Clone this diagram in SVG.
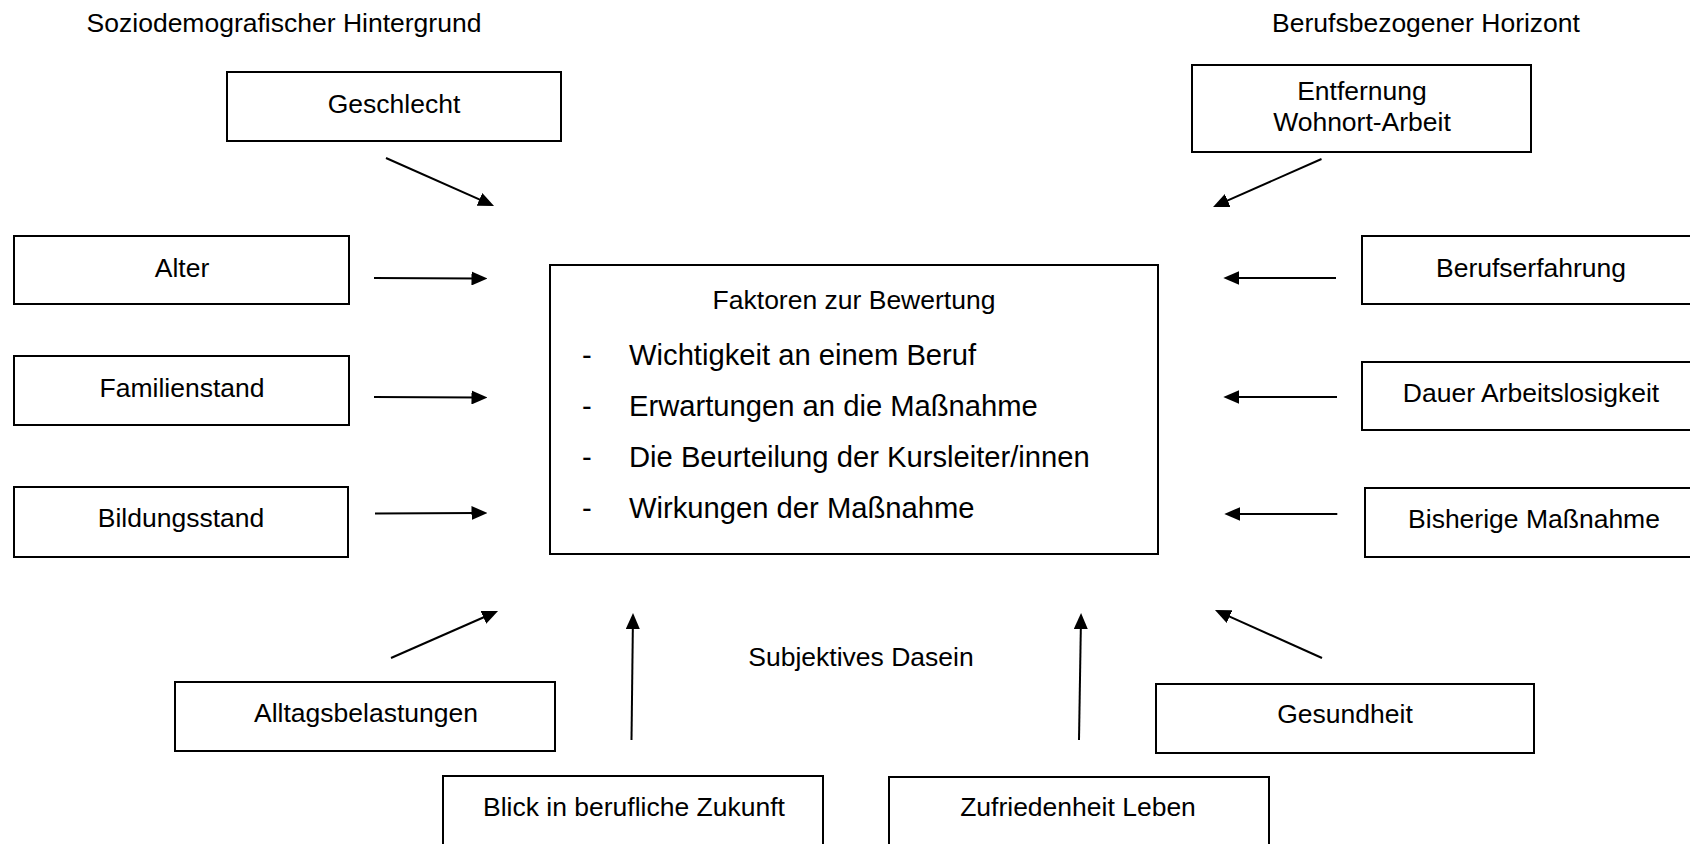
<svg xmlns="http://www.w3.org/2000/svg" width="1690" height="844" viewBox="0 0 1690 844">
<style>
.box{fill:#fff;stroke:#000;stroke-width:2}
.t{font-family:"Liberation Sans",Arial,sans-serif;font-size:26.5px;fill:#000;text-anchor:middle}
.ts{font-family:"Liberation Sans",Arial,sans-serif;font-size:26.5px;fill:#000}
.li{font-family:"Liberation Sans",Arial,sans-serif;font-size:29.2px;fill:#000}
.con line{stroke:#000;stroke-width:2;marker-end:url(#ah)}
</style>
<defs>
<marker id="ah" markerUnits="userSpaceOnUse" markerWidth="16" markerHeight="14" refX="6" refY="7" orient="auto">
<path d="M0,0 L16,7 L0,14 z" fill="#000"/>
</marker>
</defs>
<rect width="1690" height="844" fill="#fff"/>
<g id="titles">
<text class="t" x="284" y="32">Soziodemografischer Hintergrund</text>
<text class="t" x="1426" y="32">Berufsbezogener Horizont</text>
<text class="t" x="861" y="666">Subjektives Dasein</text>
</g>
<g id="geschlecht"><rect class="box" x="227" y="72" width="334" height="69"/><text class="t" x="394" y="113">Geschlecht</text></g>
<g id="alter"><rect class="box" x="14" y="236" width="335" height="68"/><text class="t" x="182" y="277">Alter</text></g>
<g id="familienstand"><rect class="box" x="14" y="356" width="335" height="69"/><text class="t" x="182" y="397">Familienstand</text></g>
<g id="bildungsstand"><rect class="box" x="14" y="487" width="334" height="70"/><text class="t" x="181" y="527">Bildungsstand</text></g>
<g id="faktoren">
<rect class="box" x="550" y="265" width="608" height="289"/>
<text class="t" x="854" y="309">Faktoren zur Bewertung</text>
<text class="li" x="582" y="365">-</text><text class="li" x="629" y="365">Wichtigkeit an einem Beruf</text>
<text class="li" x="582" y="416">-</text><text class="li" x="629" y="416">Erwartungen an die Maßnahme</text>
<text class="li" x="582" y="467">-</text><text class="li" x="629" y="467">Die Beurteilung der Kursleiter/innen</text>
<text class="li" x="582" y="518">-</text><text class="li" x="629" y="518">Wirkungen der Maßnahme</text>
</g>
<g id="entfernung"><rect class="box" x="1192" y="65" width="339" height="87"/><text class="t" x="1362" y="100">Entfernung</text><text class="t" x="1362" y="131">Wohnort-Arbeit</text></g>
<g id="berufserfahrung"><rect class="box" x="1362" y="236" width="339" height="68"/><text class="t" x="1531" y="277">Berufserfahrung</text></g>
<g id="dauer"><rect class="box" x="1362" y="362" width="339" height="68"/><text class="t" x="1531" y="402">Dauer Arbeitslosigkeit</text></g>
<g id="bisherige"><rect class="box" x="1365" y="488" width="336" height="69"/><text class="t" x="1534" y="528">Bisherige Maßnahme</text></g>
<g id="alltag"><rect class="box" x="175" y="682" width="380" height="69"/><text class="t" x="366" y="722">Alltagsbelastungen</text></g>
<g id="gesundheit"><rect class="box" x="1156" y="684" width="378" height="69"/><text class="t" x="1345" y="723">Gesundheit</text></g>
<g id="blick"><rect class="box" x="443" y="776" width="380" height="72"/><text class="t" x="634" y="816">Blick in berufliche Zukunft</text></g>
<g id="zufriedenheit"><rect class="box" x="889" y="777" width="380" height="72"/><text class="t" x="1078" y="816">Zufriedenheit Leben</text></g>
<g id="connectors" class="con">
<line x1="386" y1="158" x2="484.9" y2="201.9"/>
<line x1="374" y1="278" x2="477.5" y2="278.5"/>
<line x1="374" y1="397" x2="477.5" y2="397.5"/>
<line x1="375" y1="513.5" x2="477.5" y2="513"/>
<line x1="391" y1="658" x2="488.9" y2="615"/>
<line x1="631.5" y1="740" x2="632.9" y2="623"/>
<line x1="1079" y1="740" x2="1080.9" y2="623"/>
<line x1="1322" y1="658" x2="1224.1" y2="614.1"/>
<line x1="1321.5" y1="159" x2="1222.2" y2="202.9"/>
<line x1="1336" y1="278" x2="1233.3" y2="278"/>
<line x1="1337" y1="397" x2="1233.3" y2="397"/>
<line x1="1337.3" y1="514" x2="1234.3" y2="514"/>
</g>
</svg>
